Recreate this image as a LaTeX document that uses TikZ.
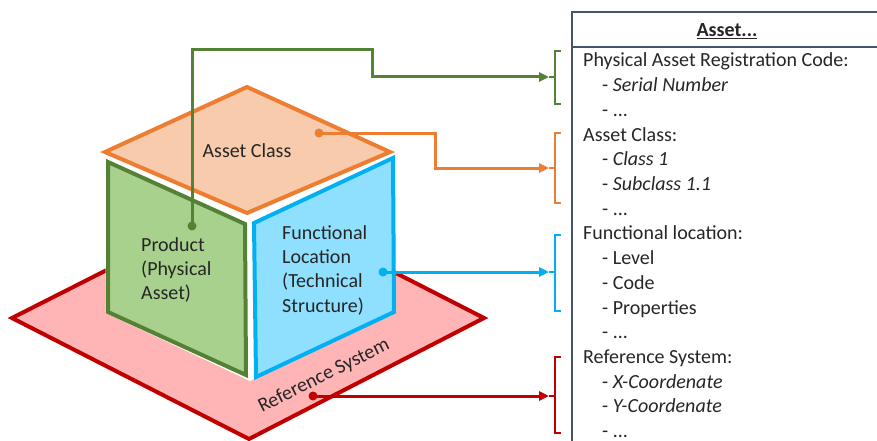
\documentclass[tikz,border=0pt]{standalone}
\usepackage{fontspec}
\setmainfont{Carlito}
\usetikzlibrary{arrows.meta}

\definecolor{gline}{RGB}{84,130,53}
\definecolor{gfill}{RGB}{169,209,142}
\definecolor{oline}{RGB}{237,125,49}
\definecolor{ofill}{RGB}{248,203,173}
\definecolor{bline}{RGB}{0,176,240}
\definecolor{bfill}{RGB}{143,224,255}
\definecolor{rline}{RGB}{192,0,0}
\definecolor{rfill}{RGB}{255,181,181}
\definecolor{boxline}{RGB}{68,84,106}

\tikzset{
  face/.style={line width=4pt, line join=miter},
  link/.style={line width=3pt, -{Triangle[length=10pt,width=9pt]}},
  brack/.style={line width=2pt},
  lbl/.style={inner sep=0pt, font=\fontsize{20}{24.4}\selectfont, align=left, text=black!85},
}

\begin{document}
\begin{tikzpicture}[x=1pt,y=-1pt]
  \useasboundingbox (0,0) rectangle (877,441);
  \clip (0,0) rectangle (877,441);

  %reference plane
  \draw[face, rline, fill=rfill] (12,318) -- (249,198) -- (484,318) -- (249,439) -- cycle;

  %cube faces
  \fill[white] (105,152) -- (247,87) -- (394,152) -- (395,313) -- (250,381) -- (106,313) -- cycle;
  \draw[face, gline, fill=gfill] (108,162) -- (245,224) -- (246,375) -- (108,312) -- cycle;
  \draw[face, bline, fill=bfill] (254,223) -- (393,158) -- (394,312) -- (256,377) -- cycle;
  \draw[face, oline, fill=ofill] (105,152) -- (247,87) -- (390,152) -- (247,213) -- cycle;

  %labels on the cube
  \node[lbl, anchor=base] (cls) at (247,157) {Asset Class};
  \node[lbl, anchor=north west] (prod) at (141,237) {Product\\(Physical\\Asset)};
  \node[lbl, anchor=north west] (floc) at (282,225) {Functional\\Location\\(Technical\\Structure)};
  \node[lbl, rotate=26.6] (refs) at (324,376) {Reference System};

  %dots and arrow ends
  \coordinate (pdot) at (192,226);
  \coordinate (adot) at (319,133);
  \coordinate (fdot) at (383,272);
  \coordinate (rdot) at (313,396);
  \coordinate (ptip) at (549,77);
  \coordinate (atip) at (549,168);
  \coordinate (ftip) at (549,272);
  \coordinate (rtip) at (549,396);

  %connectors
  \draw[link, gline] (pdot) |- (372,50) |- (ptip);
  \draw[link, oline] (adot) -| (435,168) -- (atip);
  \draw[link, bline] (fdot) -- (ftip);
  \draw[link, rline] (rdot) -- (rtip);
  \fill[gline] (pdot) circle (4.5pt);
  \fill[oline] (adot) circle (4.5pt);
  \fill[bline] (fdot) circle (4.5pt);
  \fill[rline] (rdot) circle (4.5pt);

  %brackets
  \draw[brack, gline] (561,51) -- (555,51) -- (555,104) -- (561,104) (ptip) -- (555,77);
  \draw[brack, oline] (561,133) -- (555,133) -- (555,203) -- (561,203) (atip) -- (555,168);
  \draw[brack, bline] (561,235) -- (555,235) -- (555,311) -- (561,311) (ftip) -- (555,272);
  \draw[brack, rline] (561,357) -- (555,357) -- (555,433) -- (561,433) (rtip) -- (555,396);

  %attribute box
  \draw[line width=1.5pt, boxline] (572,445) -- (572,12) -- (880,12);
  \draw[line width=1.5pt, boxline] (572,47) -- (880,47);
  \node[lbl, anchor=base] (hdr) at (727,37) {\underline{\textbf{Asset...}}};

  \node[lbl, anchor=base west] (l0) at (583,67) {Physical Asset Registration Code:};
  \node[lbl, anchor=base west] (l1) at (602,91.7) {- \textit{Serial Number}};
  \node[lbl, anchor=base west] (l2) at (602,116.4) {- ...};
  \node[lbl, anchor=base west] (l3) at (583,141.1) {Asset Class:};
  \node[lbl, anchor=base west] (l4) at (602,165.8) {- \textit{Class 1}};
  \node[lbl, anchor=base west] (l5) at (602,190.5) {- \textit{Subclass 1.1}};
  \node[lbl, anchor=base west] (l6) at (602,215.2) {- ...};
  \node[lbl, anchor=base west] (l7) at (583,239.9) {Functional location:};
  \node[lbl, anchor=base west] (l8) at (602,264.6) {- Level};
  \node[lbl, anchor=base west] (l9) at (602,289.3) {- Code};
  \node[lbl, anchor=base west] (l10) at (602,314) {- Properties};
  \node[lbl, anchor=base west] (l11) at (602,338.7) {- ...};
  \node[lbl, anchor=base west] (l12) at (583,363.4) {Reference System:};
  \node[lbl, anchor=base west] (l13) at (602,388.1) {- \textit{X-Coordenate}};
  \node[lbl, anchor=base west] (l14) at (602,412.8) {- \textit{Y-Coordenate}};
  \node[lbl, anchor=base west] (l15) at (602,437.5) {- ...};
\end{tikzpicture}
\end{document}
